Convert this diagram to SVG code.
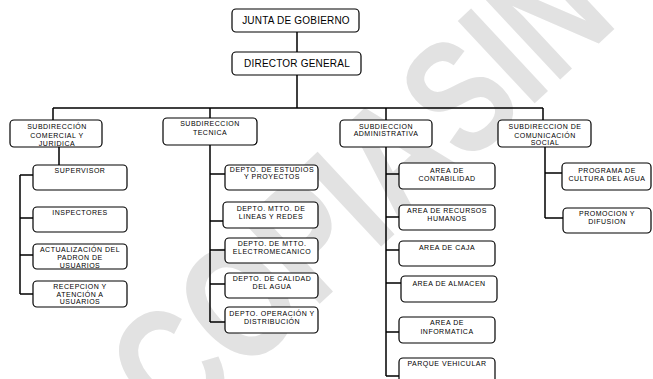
<svg xmlns="http://www.w3.org/2000/svg" width="653" height="379" viewBox="0 0 653 379">
<style>
.bx{fill:#fff;stroke:#000;stroke-width:1.2}
.ln{fill:none;stroke:#000;stroke-width:1.5}
text{font-family:"Liberation Sans",Arial,sans-serif;fill:#000;text-anchor:middle}
.s{font-size:7px;letter-spacing:0.5px}
.b{font-size:10px;letter-spacing:0.2px}
.wm{font-family:"Liberation Sans",Arial,sans-serif;font-weight:bold;font-size:126px;fill:#e2e2e2;text-anchor:middle}
</style>
<rect width="653" height="379" fill="#fff"/>
<g id="watermark"><text class="wm" x="0" y="45" transform="translate(358,188) rotate(-43) scale(1,1.3)">COPIASIN</text></g>
<g id="connectors" class="ln">
<path d="M297 32V52M297 75V108M53 108H543M53 108V120M210 108V118M386 108V120M543 108V120"/>
<path d="M59 147V165M20 175V294M20 175H33M20 218H33M20 255H33M20 294H33"/>
<path d="M210 145V322M210 174H225M210 221H223M210 250H225M210 284H225M210 322H225"/>
<path d="M386 147V376M386 174H399M386 217H399M386 250H399M386 283H401M386 332H399M386 376H399"/>
<path d="M545 147V218M545 173H562M545 218H563"/>
</g>
<g id="junta"><rect class="bx" x="232" y="9" width="127" height="23" rx="4"/><text class="b" x="296" y="24">JUNTA DE GOBIERNO</text></g>
<g id="director"><rect class="bx" x="232" y="52" width="129" height="23" rx="4"/><text class="b" x="297" y="67">DIRECTOR GENERAL</text></g>
<g id="sub-comercial"><rect class="bx" x="10" y="120" width="92" height="27" rx="4"/><text class="s" x="57" y="129">SUBDIRECCIÓN</text><text class="s" x="57" y="138">COMERCIAL Y</text><text class="s" x="57" y="146">JURIDICA</text></g>
<g id="sub-tecnica"><rect class="bx" x="163" y="118" width="94" height="27" rx="4"/><text class="s" x="210" y="126">SUBDIRECCION</text><text class="s" x="210" y="135">TECNICA</text></g>
<g id="sub-admin"><rect class="bx" x="340" y="120" width="92" height="27" rx="4"/><text class="s" x="386" y="128.5">SUBDIECCION</text><text class="s" x="386" y="136">ADMINISTRATIVA</text></g>
<g id="sub-social"><rect class="bx" x="498" y="120" width="93" height="27" rx="4"/><text class="s" x="545" y="128.5">SUBDIRECCION DE</text><text class="s" x="545" y="137.5">COMUNICACIÓN</text><text class="s" x="545" y="145">SOCIAL</text></g>
<g id="supervisor"><rect class="bx" x="33" y="165" width="94" height="25" rx="4"/><text class="s" x="80" y="173">SUPERVISOR</text></g>
<g id="inspectores"><rect class="bx" x="33" y="207" width="94" height="25" rx="4"/><text class="s" x="80" y="215">INSPECTORES</text></g>
<g id="actualizacion"><rect class="bx" x="33" y="244" width="94" height="25" rx="4"/><text class="s" x="80" y="252">ACTUALIZACIÓN DEL</text><text class="s" x="80" y="260">PADRON DE</text><text class="s" x="80" y="267.5">USUARIOS</text></g>
<g id="recepcion"><rect class="bx" x="33" y="281" width="94" height="26" rx="4"/><text class="s" x="80" y="288.5">RECEPCION Y</text><text class="s" x="80" y="296.5">ATENCIÓN A</text><text class="s" x="80" y="304">USUARIOS</text></g>
<g id="estudios"><rect class="bx" x="225" y="165" width="93" height="25" rx="4"/><text class="s" x="272" y="172">DEPTO. DE ESTUDIOS</text><text class="s" x="272" y="179">Y PROYECTOS</text></g>
<g id="lineas"><rect class="bx" x="223" y="202" width="95" height="26" rx="4"/><text class="s" x="271" y="211">DEPTO. MTTO. DE</text><text class="s" x="271" y="219">LINEAS Y REDES</text></g>
<g id="electromecanico"><rect class="bx" x="225" y="238" width="93" height="25" rx="4"/><text class="s" x="272" y="246">DEPTO. DE MTTO.</text><text class="s" x="272" y="254">ELECTROMECANICO</text></g>
<g id="calidad"><rect class="bx" x="225" y="273" width="93" height="25" rx="4"/><text class="s" x="272" y="281">DEPTO. DE CALIDAD</text><text class="s" x="272" y="288.5">DEL AGUA</text></g>
<g id="operacion"><rect class="bx" x="225" y="307" width="93" height="26" rx="4"/><text class="s" x="272" y="316">DEPTO. OPERACIÓN Y</text><text class="s" x="272" y="324">DISTRIBUCIÓN</text></g>
<g id="contabilidad"><rect class="bx" x="399" y="163" width="96" height="26" rx="4"/><text class="s" x="447" y="172.5">AREA DE</text><text class="s" x="447" y="181">CONTABILIDAD</text></g>
<g id="rrhh"><rect class="bx" x="399" y="205" width="96" height="25" rx="4"/><text class="s" x="447" y="212.5">AREA DE RECURSOS</text><text class="s" x="447" y="221">HUMANOS</text></g>
<g id="caja"><rect class="bx" x="399" y="241" width="96" height="25" rx="4"/><text class="s" x="447" y="250">AREA DE CAJA</text></g>
<g id="almacen"><rect class="bx" x="401" y="276" width="96" height="26" rx="4"/><text class="s" x="449" y="286">AREA DE ALMACEN</text></g>
<g id="informatica"><rect class="bx" x="399" y="317" width="96" height="26" rx="4"/><text class="s" x="447" y="325">AREA DE</text><text class="s" x="447" y="334">INFORMATICA</text></g>
<g id="parque"><rect class="bx" x="399" y="358" width="96" height="30" rx="4"/><text class="s" x="447" y="366">PARQUE VEHICULAR</text></g>
<g id="programa"><rect class="bx" x="562" y="163" width="89" height="27" rx="4"/><text class="s" x="607" y="172.5">PROGRAMA DE</text><text class="s" x="607" y="181">CULTURA DEL AGUA</text></g>
<g id="promocion"><rect class="bx" x="563" y="208" width="88" height="25" rx="4"/><text class="s" x="607" y="216">PROMOCION Y</text><text class="s" x="607" y="224">DIFUSION</text></g>
</svg>
